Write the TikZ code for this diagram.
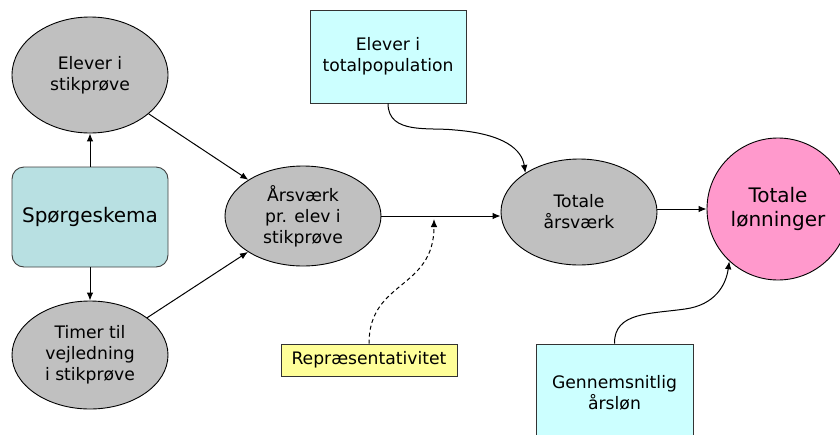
\documentclass[tikz,border=0pt]{standalone}
\usepackage{fontspec}
\setmainfont{DejaVu Sans}
\usetikzlibrary{shapes.geometric,arrows.meta}
\definecolor{grayfill}{HTML}{C0C0C0}
\definecolor{tealfill}{HTML}{B8E0E2}
\definecolor{cyanfill}{HTML}{CCFFFF}
\definecolor{yellowfill}{HTML}{FFFF99}
\definecolor{pinkfill}{HTML}{FF99CC}
\tikzset{
  x=1pt, y=-1pt,
  txt/.style={font=\fontsize{17.2}{21}\selectfont, align=center, text=black},
  bigtxt/.style={font=\fontsize{20}{24}\selectfont, align=center, text=black},
  oval/.style={ellipse, draw=black, fill=grayfill, inner sep=0pt, line width=0.9pt, txt},
  box/.style={rectangle, draw=black!80, line width=0.9pt, inner sep=0pt, txt},
  conn/.style={line width=1pt, -{Latex[length=8pt,width=6.5pt]}},
  dashline/.style={dash pattern=on 4pt off 3pt},
}
\begin{document}
\begin{tikzpicture}
\path[use as bounding box, clip] (0,0) rectangle (840,434);
\fill[white] (0,0) rectangle (840,434);

\node[oval, minimum width=156pt, minimum height=116pt] (el) at (90,75) {Elever i\\stikprøve};
\node[box, rounded corners=12pt, fill=tealfill, draw=black!75, minimum width=156pt, minimum height=100pt, bigtxt] (sp) at (90,217) {Spørgeskema};
\node[oval, minimum width=156pt, minimum height=108pt] (ti) at (90,355) {Timer til\\vejledning\\i stikprøve};
\node[oval, minimum width=156pt, minimum height=100pt] (aa) at (303,216) {Årsværk\\pr. elev i\\stikprøve};
\node[oval, minimum width=156pt, minimum height=106pt] (ta) at (579,212) {Totale\\årsværk};
\node[circle, draw=black, fill=pinkfill, line width=0.9pt, minimum size=142pt, inner sep=0pt, bigtxt] (tl) at (778,209) {Totale\\lønninger};
\node[box, fill=cyanfill, minimum width=156pt, minimum height=93pt] (tp) at (388,56.5) {Elever i\\totalpopulation};
\node[box, fill=yellowfill, minimum width=176pt, minimum height=32pt] (rep) at (369,360) {Repræsentativitet};
\node[box, fill=cyanfill, minimum width=157pt, minimum height=98pt] (gn) at (614.5,393) {Gennemsnitlig\\årsløn};

\coordinate (m) at (434,219);

\draw[conn] (sp) -- (el);
\draw[conn] (sp) -- (ti);
\draw[conn] (el) -- (aa);
\draw[conn] (ti) -- (aa);
\draw[conn] (aa.east) -- (aa.east -| ta.west);
\draw[conn] (ta.east |- tl.west) -- (tl.west);
\draw[conn, dashline] (rep.north) .. controls (369,280) and (434,290) .. (m);
\draw[conn] (tp.south) .. controls (388,135) and (430,127) .. (455,130) .. controls (505,134) and (522,150) .. (ta.144);
\draw[conn] (gn.north) .. controls (614,312) and (650,314) .. (685,309) .. controls (715,305) and (726,285) .. (tl.227);
\end{tikzpicture}
\end{document}
